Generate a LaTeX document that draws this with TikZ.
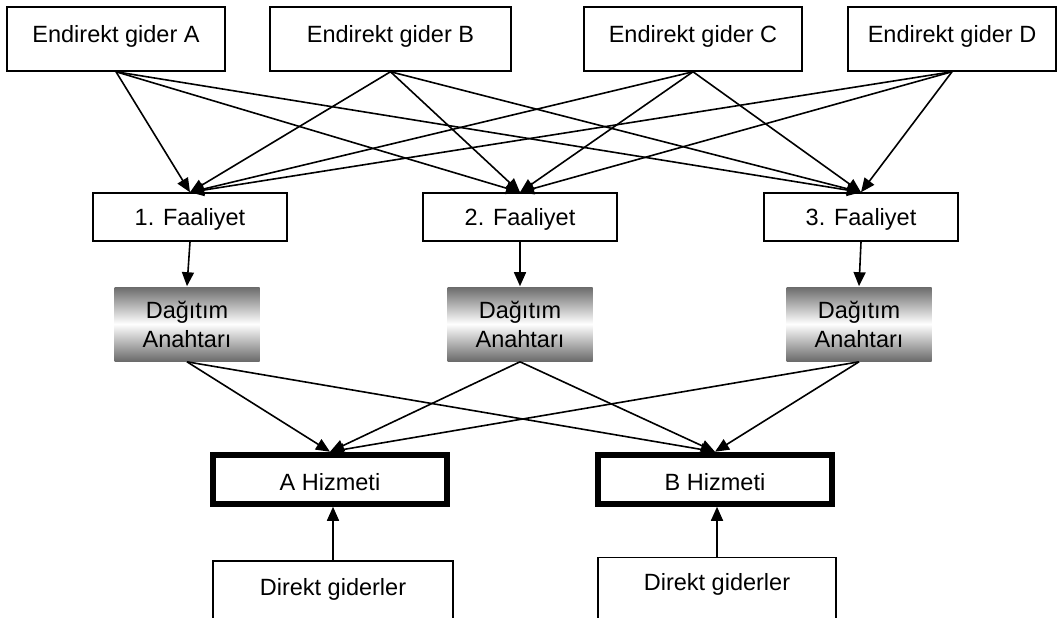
\documentclass[tikz,border=0pt]{standalone}
\usepackage{fontspec}
\setmainfont{Liberation Sans}
\usetikzlibrary{arrows.meta}
\newcommand{\yazi}{\fontsize{11.75}{14.5}\selectfont}
\tikzset{
  kutu/.style={draw, line width=0.75pt, inner sep=0pt, font=\yazi},
  gider/.style={kutu, text height=17.5pt, text depth=14.5pt},
  faaliyet/.style={kutu, minimum width=97pt, text height=16pt, text depth=8pt},
  anahtar/.style={inner sep=0pt, font=\yazi, align=center, minimum width=72.5pt, minimum height=37pt,
    top color=black!58, bottom color=black!58, middle color=white},
  hizmet/.style={kutu, line width=3pt, minimum width=117pt, text height=18pt, text depth=6.5pt},
  direkt/.style={kutu, minimum width=120pt, text depth=20pt}
}
\begin{document}
\begin{tikzpicture}[x=0.5pt, y=-0.5pt, line width=0.8pt, >={Triangle[length=7pt, width=6pt]}]
  \useasboundingbox (0,0) rectangle (1058,617);
  \clip (0,0) rectangle (1058,617);

  % Endirekt giderler (üst sıra)
  \node[gider, minimum width=109pt] (g1) at (116,39) {Endirekt gider A};
  \node[gider, minimum width=120.5pt] (g2) at (390.5,39) {Endirekt gider B};
  \node[gider, minimum width=109pt] (g3) at (693,39) {Endirekt gider C};
  \node[gider, minimum width=104pt] (g4) at (952,39) {Endirekt gider D};

  % Faaliyetler ve dağıtım anahtarları
  \foreach \i/\x/\y in {1/190/187, 2/520/520, 3/861/859} {
    \node[faaliyet] (f\i) at (\x,217) {\i. Faaliyet};
    \node[anahtar] (a\i) at (\y,324) {Dağıtım\\Anahtarı};
  }

  % Hizmetler
  \node[hizmet] (h1) at (330,479.25) {A Hizmeti};
  \node[hizmet] (h2) at (715,479.25) {B Hizmeti};

  % Direkt giderler (alt sıra, kenardan taşar)
  \node[direkt, text height=17pt] (d1) at (333,598) {Direkt giderler};
  \node[direkt, text height=16.5pt, minimum width=119pt] (d2) at (717,594) {Direkt giderler};

  % Her endirekt giderden her faaliyete
  \foreach \g in {1,...,4} {
    \foreach \f in {1,2,3} {
      \draw[->] (g\g.south) -- (f\f.north);
    }
  }

  % Faaliyet -> anahtar -> hizmetler
  \foreach \i in {1,2,3} {
    \draw[->] (f\i.south) -- (a\i.north);
    \draw[->] (a\i.south) -- (h1.north);
    \draw[->] (a\i.south) -- (h2.north);
  }

  % Direkt giderler hizmete
  \draw[->] (d1.north) -- (d1.north |- h1.south);
  \draw[->] (d2.north) -- (d2.north |- h2.south);

\end{tikzpicture}
\end{document}
